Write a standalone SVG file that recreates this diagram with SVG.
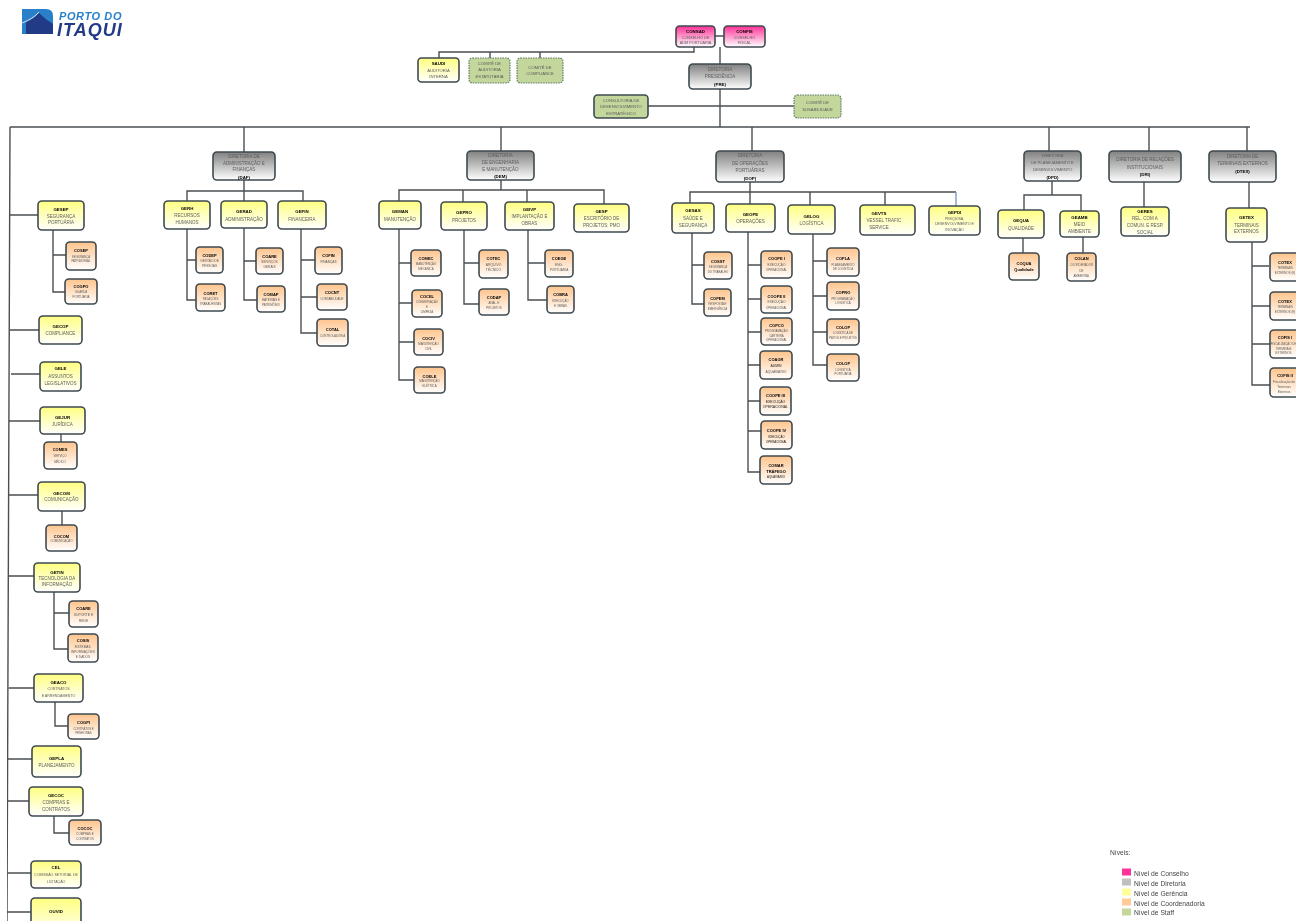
<svg xmlns="http://www.w3.org/2000/svg" width="1296" height="921" viewBox="0 0 1296 921">
<style>
text{font-family:"Liberation Sans",Arial,sans-serif;text-anchor:middle;fill:#5c5c5c}
.gt{font-size:4.5px}
.kt{font-size:2.9px}
.b{font-weight:bold;fill:#000}
.gb{font-weight:bold;fill:#000;font-size:4.4px}
.kb{font-weight:bold;fill:#000;font-size:4px}
.n{stroke:#3f4a50;stroke-width:1.6}
.c{fill:url(#gc)}.d{fill:url(#gd)}.g{fill:url(#gg)}.k{fill:url(#gk)}
.s{fill:#c3d69b;stroke:#5f7d68;stroke-width:1.2;stroke-dasharray:1.5 1}
.sf{fill:#c3d69b;stroke:#3f4a50;stroke-width:1.6}
.lines path{fill:none;stroke:#4a4f52;stroke-width:1.4}
.leg{font-size:6.7px;text-anchor:start;fill:#444}
</style>
<defs>
<linearGradient id="gc" x1="0" y1="0" x2="0" y2="1"><stop offset="0" stop-color="#ff2f95"/><stop offset="1" stop-color="#fff"/></linearGradient>
<linearGradient id="gd" x1="0" y1="0" x2="0" y2="1"><stop offset="0" stop-color="#808080"/><stop offset="1" stop-color="#fff"/></linearGradient>
<linearGradient id="gg" x1="0" y1="0" x2="0" y2="1"><stop offset="0" stop-color="#ffff80"/><stop offset="1" stop-color="#fff"/></linearGradient>
<linearGradient id="gk" x1="0" y1="0" x2="0" y2="1"><stop offset="0" stop-color="#ffc48c"/><stop offset="1" stop-color="#fff"/></linearGradient>
<filter id="soft" x="0" y="0" width="100%" height="100%"><feGaussianBlur stdDeviation="0.35"/></filter>
</defs>
<rect width="1296" height="921" fill="#fff"/>
<g filter="url(#soft)">
<g id="logo">
<path d="M22,9H46Q53,9 53,16V34H22Z" fill="#2a80c8"/>
<path d="M26,34V22Q34,19 39,13Q46,20 53,24V34Z" fill="#233a86"/>
<path d="M22,23Q33,19 39,12" fill="none" stroke="#fff" stroke-width="0.8"/>
<text x="59" y="20" style="text-anchor:start;font-size:11px;font-weight:bold;font-style:italic;fill:#2a80c8;letter-spacing:0.6px">PORTO DO</text>
<text x="57" y="35.500" style="text-anchor:start;font-size:18px;font-weight:bold;font-style:italic;fill:#233a86;letter-spacing:1px">ITAQUI</text>
</g>
<g class="lines" id="connectors">
<path d="M10,127H1250M10,127L7,921M720,47V127M715,36H724M694,47V52H439V58M490,52V58M540,52V58M648,106H794"/>
<path d="M244,127V152M501,127V151M752,127V151M1049,127V151M1149,127V151M1247,127V151"/>
<path d="M9.8,215H38M53,230V292H65M53,255H66M9.5,330H39M11,374H40M9,421H40M61,434V442"/>
<path d="M9,495H38M62,511V525M8.5,576H34M54,592V649H68M54,613H69M8.5,688H34M55,702V726H68"/>
<path d="M8,759H32M8,801H29M54,816V833H69M7.5,873H31M7,912H31"/>
<path d="M244,180V201M187,201V191H303V201M187,229V300H196M187,260H196M244,228V300H257M244,261H256M301,229V333H317M301,260H315M301,297H317"/>
<path d="M501,180V190M399,201V190H604V204M463,190V202M527,190V202M399,229V380H414M399,263H411M399,303H412M399,342H414M464,230V304H479M464,263H479M528,230V300H547M528,263H545"/>
<path d="M750,182V192M690,203V192H956M750,192V204M810,192V205M885,192V205M692,233V304H704M692,265H704M748,232V472H760M748,265H761M748,299H761M748,332H761M748,365H760M748,401H760M748,431H761M813,234V365H827M813,261H827M813,296H827M813,332H827"/>
<path d="M956,192V206" style="stroke:#7c9cc4"/>
<path d="M1052,181V195M1024,210V195H1081V211M1023,238V253M1083,237V253M1144,182V207M1249,182V208M1252,242V385H1270M1252,266H1269M1252,306H1270M1252,344H1270"/>
</g>

<g id="consad"><rect class="n c" x="676" y="26" width="39" height="21" rx="3.5"/><text class="gt" x="695.5" y="32.5"><tspan class="gb">CONSAD</tspan><tspan x="695.5" y="38.5" style="font-size:3.8px">CONSELHO DE</tspan><tspan x="695.5" y="44" style="font-size:3.8px">ADM PORTUÁRIA</tspan></text></g>
<g id="confis"><rect class="n c" x="724" y="26" width="41" height="21" rx="3.5"/><text class="gt" x="744.5" y="32.5"><tspan class="gb">CONFIS</tspan><tspan x="744.5" y="38.5" style="font-size:3.8px">CONSELHO</tspan><tspan x="744.5" y="44" style="font-size:3.8px">FISCAL</tspan></text></g>
<g id="saudi"><rect class="n g" x="418" y="58" width="41" height="24" rx="3.5"/><text class="gt" x="438.5" y="65"><tspan class="gb">SAUDI</tspan><tspan x="438.5" y="71.5" style="font-size:4.2px">AUDITORIA</tspan><tspan x="438.5" y="77.5" style="font-size:4.2px">INTERNA</tspan></text></g>
<g id="comite-auditoria"><rect class="s" x="469" y="58" width="41" height="25" rx="3.5"/><text class="gt" x="489.5" y="64.5" style="font-size:4.2px">COMITÊ DE<tspan x="489.5" y="71">AUDITORIA</tspan><tspan x="489.5" y="77.5">ESTATUTÁRIA</tspan></text></g>
<g id="comite-compliance"><rect class="s" x="517" y="58" width="46" height="25" rx="3.5"/><text class="gt" x="540" y="68.5" style="font-size:4.2px">COMITÊ DE<tspan x="540" y="75">COMPLIANCE</tspan></text></g>
<g id="pres"><rect class="n d" x="689" y="64" width="62" height="25" rx="4"/><text class="gt" x="720" y="70.5">DIRETORIA<tspan x="720" y="77.5">PRESIDÊNCIA</tspan><tspan class="gb" x="720" y="86">(PRE)</tspan></text></g>
<g id="consultoria"><rect class="sf" x="594" y="95" width="54" height="23" rx="3.5"/><text class="gt" x="621" y="101.5" style="font-size:4.2px">CONSULTORIA DE<tspan x="621" y="108">DESENVOLVIMENTO</tspan><tspan x="621" y="114.500">ESTRATÉGICO</tspan></text></g>
<g id="comite-sust"><rect class="s" x="794" y="95" width="47" height="23" rx="3.5"/><text class="gt" x="817.500" y="104" style="font-size:4.2px">COMITÊ DE<tspan x="817.500" y="110.500">SUSABILIDADE</tspan></text></g>

<g id="gesep"><rect class="n g" x="38" y="201" width="46" height="29" rx="4"/><text class="gt" x="61" y="211"><tspan class="gb">GESEP</tspan><tspan x="61" y="217.500">SEGURANÇA</tspan><tspan x="61" y="224">PORTUÁRIA</tspan></text></g>
<g id="cosep"><rect class="n k" x="66" y="242" width="30" height="28" rx="4"/><text class="kt" x="81" y="252"><tspan class="kb">COSEP</tspan><tspan x="81" y="257.500">SEGURANÇA</tspan><tspan x="81" y="262">PATRIMONIAL</tspan></text></g>
<g id="cogpo"><rect class="n k" x="65" y="279" width="32" height="25" rx="4"/><text class="kt" x="81" y="287.500"><tspan class="kb">COGPO</tspan><tspan x="81" y="292.500">GUARDA</tspan><tspan x="81" y="297.500">PORTUÁRIA</tspan></text></g>
<g id="gecop"><rect class="n g" x="39" y="316" width="43" height="28" rx="4"/><text class="gt" x="60.500" y="328"><tspan class="gb">GECOP</tspan><tspan x="60.500" y="335">COMPLIANCE</tspan></text></g>
<g id="gele"><rect class="n g" x="40" y="362" width="41" height="29" rx="4"/><text class="gt" x="60.500" y="370"><tspan class="gb">GELE</tspan><tspan x="60.500" y="378">ASSUNTOS</tspan><tspan x="60.500" y="385">LEGISLATIVOS</tspan></text></g>
<g id="gejur"><rect class="n g" x="40" y="407" width="45" height="27" rx="4"/><text class="gt" x="62.500" y="419"><tspan class="gb">GEJUR</tspan><tspan x="62.500" y="426">JURÍDICA</tspan></text></g>
<g id="comes"><rect class="n k" x="44" y="442" width="33" height="27" rx="4"/><text class="kt" x="60" y="450.500"><tspan class="kb">COMES</tspan><tspan x="60" y="456.500">SERVIÇO</tspan><tspan x="60" y="462.500">MÉDICO</tspan></text></g>
<g id="gecom"><rect class="n g" x="38" y="482" width="47" height="29" rx="4"/><text class="gt" x="61.500" y="494.500"><tspan class="gb">GECOM</tspan><tspan x="61.500" y="500.500">COMUNICAÇÃO</tspan></text></g>
<g id="cocom"><rect class="n k" x="46" y="525" width="31" height="26" rx="4"/><text class="kt" x="61.500" y="537.500"><tspan class="kb">COCOM</tspan><tspan x="61.500" y="542">COMUNICAÇÃO</tspan></text></g>
<g id="getin"><rect class="n g" x="34" y="563" width="46" height="29" rx="4"/><text class="gt" x="57" y="573.500"><tspan class="gb">GETIN</tspan><tspan x="57" y="579.500">TECNOLOGIA DA</tspan><tspan x="57" y="586">INFORMAÇÃO</tspan></text></g>
<g id="coare-ti"><rect class="n k" x="69" y="601" width="29" height="26" rx="4"/><text class="kt" x="83.500" y="610"><tspan class="kb">COARE</tspan><tspan x="83.500" y="616" style="font-size:3.4px">SUPORTE E</tspan><tspan x="83.500" y="621.500" style="font-size:3.4px">REDE</tspan></text></g>
<g id="cosis"><rect class="n k" x="68" y="634" width="30" height="28" rx="4"/><text class="kt" x="83" y="642"><tspan class="kb">COSIS</tspan><tspan x="83" y="648" style="font-size:3.2px">SISTEMAS,</tspan><tspan x="83" y="653" style="font-size:3.2px">INFORMAÇÕES</tspan><tspan x="83" y="658" style="font-size:3.2px">E DADOS</tspan></text></g>
<g id="geaco"><rect class="n g" x="34" y="674" width="49" height="28" rx="4"/><text class="gt" x="58.500" y="683.500" style="font-size:3.6px"><tspan class="gb">GEACO</tspan><tspan x="58.500" y="690">CONTRATOS</tspan><tspan x="58.500" y="696.500">E ARRENDAMENTO</tspan></text></g>
<g id="cogpi"><rect class="n k" x="68" y="714" width="31" height="25" rx="4"/><text class="kt" x="83.500" y="723.500"><tspan class="kb">COGPI</tspan><tspan x="83.500" y="729.500">CONTRATOS E</tspan><tspan x="83.500" y="733.500">PENHORAS</tspan></text></g>
<g id="gepla"><rect class="n g" x="32" y="746" width="49" height="31" rx="4"/><text class="gt" x="56.500" y="760"><tspan class="gb">GEPLA</tspan><tspan x="56.500" y="766.500">PLANEJAMENTO</tspan></text></g>
<g id="gecoc"><rect class="n g" x="29" y="787" width="54" height="29" rx="4"/><text class="gt" x="56" y="796.500"><tspan class="gb">GECOC</tspan><tspan x="56" y="804">COMPRAS E</tspan><tspan x="56" y="811">CONTRATOS</tspan></text></g>
<g id="cococ"><rect class="n k" x="69" y="820" width="32" height="25" rx="4"/><text class="kt" x="85" y="829.500"><tspan class="kb">COCOC</tspan><tspan x="85" y="834.500">COMPRAS E</tspan><tspan x="85" y="839.500">CONTRATOS</tspan></text></g>
<g id="cel"><rect class="n g" x="31" y="861" width="50" height="27" rx="4"/><text class="gt" x="56" y="869"><tspan class="gb">CEL</tspan><tspan x="56" y="876" style="font-size:3.6px">COMISSÃO SETORIAL DE</tspan><tspan x="56" y="882.500" style="font-size:3.6px">LICITAÇÃO</tspan></text></g>
<g id="ouvid"><rect class="n g" x="31" y="898" width="50" height="40" rx="4"/><text class="gt" x="56" y="913"><tspan class="gb">OUVID</tspan></text></g>

<g id="daf"><rect class="n d" x="213" y="152" width="62" height="28" rx="4"/><text class="gt" x="244" y="158">DIRETORIA DE<tspan x="244" y="164.500">ADMINISTRAÇÃO E</tspan><tspan x="244" y="171">FINANÇAS</tspan><tspan class="gb" x="244" y="179">(DAF)</tspan></text></g>
<g id="gerh"><rect class="n g" x="164" y="201" width="46" height="28" rx="4"/><text class="gt" x="187" y="210"><tspan class="gb">GERH</tspan><tspan x="187" y="217">RECURSOS</tspan><tspan x="187" y="223.500">HUMANOS</tspan></text></g>
<g id="gerad"><rect class="n g" x="221" y="201" width="46" height="27" rx="4"/><text class="gt" x="244" y="213"><tspan class="gb">GERAD</tspan><tspan x="244" y="220.500">ADMINISTRAÇÃO</tspan></text></g>
<g id="gefin"><rect class="n g" x="278" y="201" width="48" height="28" rx="4"/><text class="gt" x="302" y="213"><tspan class="gb">GEFIN</tspan><tspan x="302" y="220.500">FINANCEIRA</tspan></text></g>
<g id="codep"><rect class="n k" x="196" y="247" width="27" height="26" rx="4"/><text class="kt" x="209.500" y="256.500"><tspan class="kb">CODEP</tspan><tspan x="209.500" y="261.500" style="font-size:3.2px">GESTÃO DE</tspan><tspan x="209.500" y="266.500" style="font-size:3.2px">PESSOAS</tspan></text></g>
<g id="coret"><rect class="n k" x="196" y="284" width="29" height="27" rx="4"/><text class="kt" x="210.500" y="294.500"><tspan class="kb">CORET</tspan><tspan x="210.500" y="299.500">RELAÇÕES</tspan><tspan x="210.500" y="304.500">TRABALHISTAS</tspan></text></g>
<g id="coare"><rect class="n k" x="256" y="248" width="27" height="26" rx="4"/><text class="kt" x="269.500" y="257.500"><tspan class="kb">COARE</tspan><tspan x="269.500" y="262.500" style="font-size:3.2px">SERVIÇOS</tspan><tspan x="269.500" y="267.500" style="font-size:3.2px">GERAIS</tspan></text></g>
<g id="comap"><rect class="n k" x="257" y="286" width="28" height="26" rx="4"/><text class="kt" x="271" y="295.500"><tspan class="kb">COMAP</tspan><tspan x="271" y="301">MATERIAIS E</tspan><tspan x="271" y="306">PATRIMÔNIO</tspan></text></g>
<g id="cofin"><rect class="n k" x="315" y="247" width="27" height="27" rx="4"/><text class="kt" x="328.500" y="257"><tspan class="kb">COFIN</tspan><tspan x="328.500" y="262.500" style="font-size:3.2px">FINANÇAS</tspan></text></g>
<g id="cocnt"><rect class="n k" x="317" y="284" width="30" height="26" rx="4"/><text class="kt" x="332" y="294"><tspan class="kb">COCNT</tspan><tspan x="332" y="299.500">CONTABILIDADE</tspan></text></g>
<g id="cotal"><rect class="n k" x="317" y="319" width="31" height="27" rx="4"/><text class="kt" x="332.500" y="331"><tspan class="kb">COTAL</tspan><tspan x="332.500" y="337">CONTROLADORIA</tspan></text></g>

<g id="dem"><rect class="n d" x="467" y="151" width="67" height="29" rx="4"/><text class="gt" x="500.500" y="157">DIRETORIA<tspan x="500.500" y="164">DE ENGENHARIA</tspan><tspan x="500.500" y="171">E MANUTENÇÃO</tspan><tspan class="gb" x="500.500" y="178">(DEM)</tspan></text></g>
<g id="geman"><rect class="n g" x="379" y="201" width="42" height="28" rx="4"/><text class="gt" x="400" y="213"><tspan class="gb">GEMAN</tspan><tspan x="400" y="220.500">MANUTENÇÃO</tspan></text></g>
<g id="gepro"><rect class="n g" x="441" y="202" width="46" height="28" rx="4"/><text class="gt" x="464" y="214"><tspan class="gb">GEPRO</tspan><tspan x="464" y="222">PROJETOS</tspan></text></g>
<g id="geivp"><rect class="n g" x="505" y="202" width="49" height="28" rx="4"/><text class="gt" x="529.500" y="211"><tspan class="gb">GEIVP</tspan><tspan x="529.500" y="218">IMPLANTAÇÃO E</tspan><tspan x="529.500" y="224.500">OBRAS</tspan></text></g>
<g id="gesp"><rect class="n g" x="574" y="204" width="55" height="28" rx="4"/><text class="gt" x="601.500" y="213"><tspan class="gb">GESP</tspan><tspan x="601.500" y="220">ESCRITÓRIO DE</tspan><tspan x="601.500" y="227">PROJETOS: PMO</tspan></text></g>
<g id="comec"><rect class="n k" x="411" y="250" width="30" height="26" rx="4"/><text class="kt" x="426" y="260"><tspan class="kb">COMEC</tspan><tspan x="426" y="264.500">MANUTENÇÃO</tspan><tspan x="426" y="269.500">MECÂNICA</tspan></text></g>
<g id="cocel"><rect class="n k" x="412" y="290" width="30" height="27" rx="4"/><text class="kt" x="427" y="298"><tspan class="kb">COCEL</tspan><tspan x="427" y="303">CONSERVAÇÃO</tspan><tspan x="427" y="308">E</tspan><tspan x="427" y="313">LIMPEZA</tspan></text></g>
<g id="cociv"><rect class="n k" x="414" y="329" width="29" height="26" rx="4"/><text class="kt" x="428.500" y="340"><tspan class="kb">COCIV</tspan><tspan x="428.500" y="344.500">MANUTENÇÃO</tspan><tspan x="428.500" y="349.500">CIVIL</tspan></text></g>
<g id="coele"><rect class="n k" x="414" y="367" width="31" height="26" rx="4"/><text class="kt" x="429.500" y="377.500"><tspan class="kb">COELE</tspan><tspan x="429.500" y="382">MANUTENÇÃO</tspan><tspan x="429.500" y="386.500">ELÉTRICA</tspan></text></g>
<g id="cotec"><rect class="n k" x="479" y="250" width="29" height="28" rx="4"/><text class="kt" x="493.500" y="260"><tspan class="kb">COTEC</tspan><tspan x="493.500" y="265.500" style="font-size:3.4px">ARQUIVO</tspan><tspan x="493.500" y="271" style="font-size:3.4px">TÉCNICO</tspan></text></g>
<g id="codap"><rect class="n k" x="479" y="289" width="30" height="26" rx="4"/><text class="kt" x="494" y="298.500"><tspan class="kb">CODAP</tspan><tspan x="494" y="304">ANÁL. E</tspan><tspan x="494" y="309">PROJETOS</tspan></text></g>
<g id="coege"><rect class="n k" x="545" y="250" width="28" height="27" rx="4"/><text class="kt" x="559" y="260"><tspan class="kb">COEGE</tspan><tspan x="559" y="265.500" style="font-size:3.2px">ENG.</tspan><tspan x="559" y="270.500" style="font-size:3.2px">PORTUÁRIA</tspan></text></g>
<g id="cobra"><rect class="n k" x="547" y="286" width="27" height="27" rx="4"/><text class="kt" x="560.500" y="296"><tspan class="kb">COBRA</tspan><tspan x="560.500" y="302">EXECUÇÃO</tspan><tspan x="560.500" y="306.500">E OBRAS</tspan></text></g>

<g id="dop"><rect class="n d" x="716" y="151" width="68" height="31" rx="4"/><text class="gt" x="750" y="157">DIRETORIA<tspan x="750" y="164.500">DE OPERAÇÕES</tspan><tspan x="750" y="172">PORTUÁRIAS</tspan><tspan class="gb" x="750" y="179.500">(DOP)</tspan></text></g>
<g id="gesas"><rect class="n g" x="672" y="203" width="42" height="30" rx="4"/><text class="gt" x="693" y="212"><tspan class="gb">GESAS</tspan><tspan x="693" y="219.500">SAÚDE E</tspan><tspan x="693" y="226.500">SEGURANÇA</tspan></text></g>
<g id="geope"><rect class="n g" x="726" y="204" width="49" height="28" rx="4"/><text class="gt" x="750.500" y="216"><tspan class="gb">GEOPE</tspan><tspan x="750.500" y="223">OPERAÇÕES</tspan></text></g>
<g id="gelog"><rect class="n g" x="788" y="205" width="47" height="29" rx="4"/><text class="gt" x="811.500" y="218"><tspan class="gb">GELOG</tspan><tspan x="811.500" y="225">LOGÍSTICA</tspan></text></g>
<g id="gevts"><rect class="n g" x="860" y="205" width="55" height="30" rx="4"/><text class="gt" x="885" y="214.500"><tspan class="gb" x="879">GEVTS</tspan><tspan x="884" y="221.500">VESSEL TRAFIC</tspan><tspan x="879" y="229">SERVICE</tspan></text></g>
<g id="gepdi"><rect class="n g" x="929" y="206" width="51" height="29" rx="4"/><text class="gt" x="954.500" y="213.500" style="font-size:3.6px"><tspan class="gb">GEPDI</tspan><tspan x="954.500" y="219.500">PESQUISA,</tspan><tspan x="954.500" y="225">DESENVOLVIMENTO E</tspan><tspan x="954.500" y="231">INOVAÇÃO</tspan></text></g>
<g id="cosst"><rect class="n k" x="704" y="252" width="28" height="27" rx="4"/><text class="kt" x="718" y="262.500"><tspan class="kb">COSST</tspan><tspan x="718" y="268">SEGURANÇA</tspan><tspan x="718" y="273">DO TRABALHO</tspan></text></g>
<g id="copem"><rect class="n k" x="704" y="289" width="27" height="27" rx="4"/><text class="kt" x="717.500" y="299.500"><tspan class="kb">COPEM</tspan><tspan x="717.500" y="305">RESPOSTA E</tspan><tspan x="717.500" y="310">EMERGÊNCIA</tspan></text></g>
<g id="coope1"><rect class="n k" x="761" y="251" width="31" height="27" rx="4"/><text class="kt" x="776.500" y="260"><tspan class="kb">COOPE I</tspan><tspan x="776.500" y="265.500" style="font-size:3.2px">EXECUÇÃO</tspan><tspan x="776.500" y="271">OPERACIONAL</tspan></text></g>
<g id="coope2"><rect class="n k" x="761" y="286" width="31" height="27" rx="4"/><text class="kt" x="776.500" y="298"><tspan class="kb">COOPE II</tspan><tspan x="776.500" y="303" style="font-size:3.2px">EXECUÇÃO</tspan><tspan x="776.500" y="308.500">OPERACIONAL</tspan></text></g>
<g id="copco"><rect class="n k" x="761" y="318" width="31" height="27" rx="4"/><text class="kt" x="776.500" y="327"><tspan class="kb">COPCO</tspan><tspan x="776.500" y="332">PROGRAMAÇÃO</tspan><tspan x="776.500" y="336.500">CARTEIRA</tspan><tspan x="776.500" y="341">OPERACIONAL</tspan></text></g>
<g id="coagr"><rect class="n k" x="760" y="351" width="32" height="28" rx="4"/><text class="kt" x="776" y="361"><tspan class="kb">COAGR</tspan><tspan x="776" y="367" style="font-size:3.4px;fill:#222">ADMIN</tspan><tspan x="776" y="372.500" style="font-size:3.4px">AQUAVIÁRIO</tspan></text></g>
<g id="coope3"><rect class="n k" x="760" y="387" width="31" height="28" rx="4"/><text class="kt" x="775.500" y="397"><tspan class="kb">COOPE III</tspan><tspan x="775.500" y="402.500" style="font-size:3.5px;fill:#222">EXECUÇÃO</tspan><tspan x="775.500" y="407.500" style="font-size:3.5px;fill:#222">OPERACIONAL</tspan></text></g>
<g id="coope4"><rect class="n k" x="761" y="421" width="31" height="28" rx="4"/><text class="kt" x="776.500" y="432"><tspan class="kb">COOPE IV</tspan><tspan x="776.500" y="437.500" style="fill:#111">EXECUÇÃO</tspan><tspan x="776.500" y="443" style="fill:#111">OPERACIONAL</tspan></text></g>
<g id="comar"><rect class="n k" x="760" y="456" width="32" height="28" rx="4"/><text class="kt" x="776" y="466.500"><tspan class="kb">COMAR</tspan><tspan x="776" y="472.500" class="kb">TRÁFEGO</tspan><tspan x="776" y="477.500" style="fill:#111">AQUAVIÁRIO</tspan></text></g>
<g id="copla"><rect class="n k" x="827" y="248" width="32" height="28" rx="4"/><text class="kt" x="843" y="260"><tspan class="kb">COPLA</tspan><tspan x="843" y="265.500">PLANEJAMENTO</tspan><tspan x="843" y="270">DE LOGÍSTICA</tspan></text></g>
<g id="copro"><rect class="n k" x="827" y="282" width="32" height="28" rx="4"/><text class="kt" x="843" y="294"><tspan class="kb">COPRO</tspan><tspan x="843" y="299.500">PROGRAMAÇÃO</tspan><tspan x="843" y="304">LOGÍSTICA</tspan></text></g>
<g id="colop1"><rect class="n k" x="827" y="319" width="32" height="26" rx="4"/><text class="kt" x="843" y="329"><tspan class="kb">COLOP</tspan><tspan x="843" y="334">LOGÍSTICA DE</tspan><tspan x="843" y="338.500" style="font-size:2.7px">PÁTIOS E PROJETOS</tspan></text></g>
<g id="colop2"><rect class="n k" x="827" y="354" width="32" height="27" rx="4"/><text class="kt" x="843" y="365"><tspan class="kb">COLOP</tspan><tspan x="843" y="370.500">LOGÍSTICA</tspan><tspan x="843" y="375">PORTUÁRIA</tspan></text></g>

<g id="dpd"><rect class="n d" x="1024" y="151" width="57" height="30" rx="4"/><text class="gt" x="1052.500" y="157" style="font-size:4px">DIRETORIA<tspan x="1052.500" y="163.500">DE PLANEJAMENTO E</tspan><tspan x="1052.500" y="170.500">DESENVOLVIMENTO</tspan><tspan class="gb" x="1052.500" y="178.500">(DPD)</tspan></text></g>
<g id="gequa"><rect class="n g" x="998" y="210" width="46" height="28" rx="4"/><text class="gt" x="1021" y="222"><tspan class="gb">GEQUA</tspan><tspan x="1021" y="229.500">QUALIDADE</tspan></text></g>
<g id="geamb"><rect class="n g" x="1060" y="211" width="39" height="26" rx="4"/><text class="gt" x="1079.500" y="219"><tspan class="gb">GEAMB</tspan><tspan x="1079.500" y="226">MEIO</tspan><tspan x="1079.500" y="233">AMBIENTE</tspan></text></g>
<g id="coqua"><rect class="n k" x="1009" y="253" width="30" height="27" rx="4"/><text class="kt" x="1024" y="264.500"><tspan class="kb">COQUA</tspan><tspan x="1024" y="271" class="kb">Qualidade</tspan></text></g>
<g id="colan"><rect class="n k" x="1067" y="253" width="29" height="28" rx="4"/><text class="kt" x="1081.500" y="260"><tspan class="kb">COLAN</tspan><tspan x="1081.500" y="266">COORDENADOR</tspan><tspan x="1081.500" y="271.500">DE</tspan><tspan x="1081.500" y="276.500">AMBIENTAL</tspan></text></g>
<g id="dri"><rect class="n d" x="1109" y="151" width="72" height="31" rx="4"/><text class="gt" x="1145" y="161">DIRETORIA DE RELAÇÕES<tspan x="1145" y="168.500">INSTITUCIONAIS</tspan><tspan class="gb" x="1145" y="176">(DRI)</tspan></text></g>
<g id="geres"><rect class="n g" x="1121" y="207" width="48" height="29" rx="4"/><text class="gt" x="1145" y="213"><tspan class="gb">GERES</tspan><tspan x="1145" y="219.500">REL. COM A</tspan><tspan x="1145" y="226.500">COMUN. E RESP.</tspan><tspan x="1145" y="233.500">SOCIAL</tspan></text></g>
<g id="dtex"><rect class="n d" x="1209" y="151" width="67" height="31" rx="4"/><text class="gt" x="1242.500" y="157.500">DIRETORIA DE<tspan x="1242.500" y="165">TERMINAIS EXTERNOS</tspan><tspan class="gb" x="1242.500" y="172.500">(DTEX)</tspan></text></g>
<g id="getex"><rect class="n g" x="1226" y="208" width="41" height="34" rx="4"/><text class="gt" x="1246.500" y="219"><tspan class="gb">GETEX</tspan><tspan x="1246.500" y="226.500">TERMINAIS</tspan><tspan x="1246.500" y="233">EXTERNOS</tspan></text></g>
<g id="cotex1"><rect class="n k" x="1270" y="253" width="34" height="28" rx="4"/><text class="kt" x="1285" y="263.500"><tspan class="kb">COTEX</tspan><tspan x="1285" y="269">TERMINAIS</tspan><tspan x="1285" y="274">EXTERNOS (E)</tspan></text></g>
<g id="cotex2"><rect class="n k" x="1270" y="292" width="34" height="28" rx="4"/><text class="kt" x="1285" y="302.500"><tspan class="kb">COTEX</tspan><tspan x="1285" y="308">TERMINAIS</tspan><tspan x="1285" y="313">EXTERNOS (E)</tspan></text></g>
<g id="cofis1"><rect class="n k" x="1270" y="330" width="34" height="28" rx="4"/><text class="kt" x="1283.500" y="339"><tspan class="kb" x="1285">COFIS I</tspan><tspan x="1283.500" y="344.500" style="font-size:2.9px">FISCALIZAÇÃO DE</tspan><tspan x="1283.500" y="349.500" style="font-size:2.9px">TERMINAIS</tspan><tspan x="1283.500" y="354" style="font-size:2.9px">EXTERNOS</tspan></text></g>
<g id="cofis2"><rect class="n k" x="1270" y="368" width="34" height="29" rx="4"/><text class="kt" x="1284" y="377"><tspan class="kb" x="1285">COFIS II</tspan><tspan x="1284" y="383" style="font-size:3.2px">Fiscalização de</tspan><tspan x="1284" y="388" style="font-size:3.2px">Terminais</tspan><tspan x="1284" y="393" style="font-size:3.2px">Externos</tspan></text></g>

<g id="legenda">
<text x="1110" y="855" class="leg">Níveis:</text>
<rect x="1122" y="868.500" width="9" height="7" fill="#ff3399"/><text x="1134" y="875.500" class="leg">Nível de Conselho</text>
<rect x="1122" y="878.500" width="9" height="7" fill="#c0c0c0"/><text x="1134" y="885.500" class="leg">Nível de Diretoria</text>
<rect x="1122" y="888.500" width="9" height="7" fill="#ffff99"/><text x="1134" y="895.500" class="leg">Nível de Gerência</text>
<rect x="1122" y="898.500" width="9" height="7" fill="#ffcc99"/><text x="1134" y="905.500" class="leg">Nível de Coordenadoria</text>
<rect x="1122" y="908.500" width="9" height="7" fill="#c4d79b"/><text x="1134" y="915" class="leg">Nível de Staff</text>
</g>
</g>
</svg>
